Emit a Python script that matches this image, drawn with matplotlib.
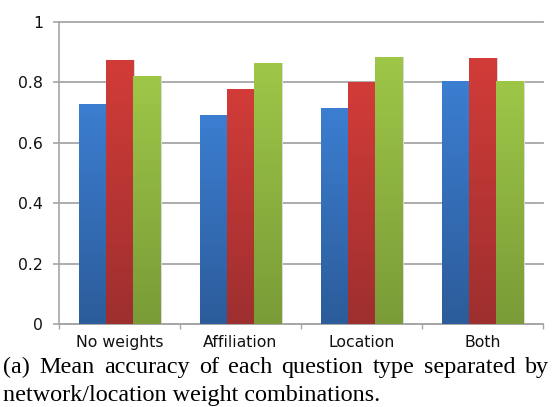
import numpy as np
import matplotlib
matplotlib.use('Agg')
import matplotlib.pyplot as plt
from matplotlib.colors import LinearSegmentedColormap
from matplotlib.ticker import FuncFormatter

categories = ['No weights', 'Affiliation', 'Location', 'Both']
series_blue = [0.728, 0.692, 0.715, 0.804]
series_red = [0.874, 0.778, 0.802, 0.880]
series_green = [0.821, 0.864, 0.884, 0.804]
yticks = [0, 0.2, 0.4, 0.6, 0.8, 1.0]
caption1 = '(a) Mean accuracy of each question type separated by'
caption2 = 'network/location weight combinations.'

# top / bottom colours of the excel style gradient
grads = [('#3c7ed1', '#2c5c9a'), ('#d23c38', '#9e2f2f'), ('#9ec748', '#7a9b37')]

W, H = 552, 407
fig = plt.figure(figsize=(W / 100, H / 100), dpi=100)
ax = fig.add_axes([59 / W, (H - 324.3) / H, 484 / W, 302.6 / H])

x = np.arange(len(categories))
bw = 0.225
allseries = [series_blue, series_red, series_green]

for k, vals in enumerate(allseries):
    xs = x + (k - 1) * bw
    # faint shadow on the right side
    ax.bar(xs + 0.012, vals, bw, color='#d9d9d9', zorder=2, linewidth=0)
for k, vals in enumerate(allseries):
    xs = x + (k - 1) * bw
    bars = ax.bar(xs, vals, bw, color=grads[k][0], zorder=3, linewidth=0)
    cmap = LinearSegmentedColormap.from_list('g%d' % k, [grads[k][1], grads[k][0]])
    grad = np.linspace(0, 1, 256).reshape(-1, 1)
    for b in bars:
        x0, y0 = b.get_x(), b.get_y()
        im = ax.imshow(grad, cmap=cmap, origin='lower', aspect='auto',
                       extent=[x0, x0 + b.get_width(), y0, y0 + b.get_height()],
                       zorder=4, interpolation='bilinear')
        im.set_clip_path(b)

ax.set_xlim(-0.5, len(categories) - 0.5)
ax.set_ylim(0, 1.0)
ax.set_yticks(yticks)
ax.yaxis.set_major_formatter(FuncFormatter(lambda v, p: '%g' % v))
ax.set_xticks(np.arange(len(categories) + 1) - 0.5)
ax.set_xticklabels([])
ax.set_xticks(x, minor=True)
ax.set_xticklabels(categories, minor=True)

gc = '#a6a6a6'
ax.grid(axis='y', color=gc, linewidth=1.3, zorder=1)
for g in ax.get_ygridlines():
    g.set_clip_on(False)
ax.set_axisbelow(True)
for s in ['top', 'right']:
    ax.spines[s].set_visible(False)
for s in ['left', 'bottom']:
    ax.spines[s].set_color(gc)
    ax.spines[s].set_linewidth(1.2)

ax.tick_params(axis='y', which='major', length=4.3, width=1.2, color=gc, pad=7,
               labelsize=11.3, labelcolor='#111111')
ax.tick_params(axis='x', which='major', length=3.6, width=1.0, color=gc)
ax.tick_params(axis='x', which='minor', length=0, pad=8, labelsize=11.3,
               labelcolor='#111111')
for lab in ax.get_yticklabels() + ax.get_xticklabels(minor=True):
    lab.set_family('DejaVu Sans')

# caption, first line justified between x=3 and x=549
cap_font = dict(family='Liberation Serif', size=17.4, color='black')
r = fig.canvas.get_renderer()
words = caption1.split()
txts = [fig.text(0, 0, w_, va='baseline', ha='left', **cap_font) for w_ in words]
widths = [t.get_window_extent(renderer=r).width for t in txts]
gap = (549 - 3 - sum(widths)) / (len(words) - 1)
xpos = 3
for t, wd in zip(txts, widths):
    t.set_position((xpos / W, (H - 373.3) / H))
    xpos += wd + gap
fig.text(3 / W, (H - 400.5) / H, caption2, va='baseline', ha='left', **cap_font)

fig.savefig('out.png', dpi=100)
